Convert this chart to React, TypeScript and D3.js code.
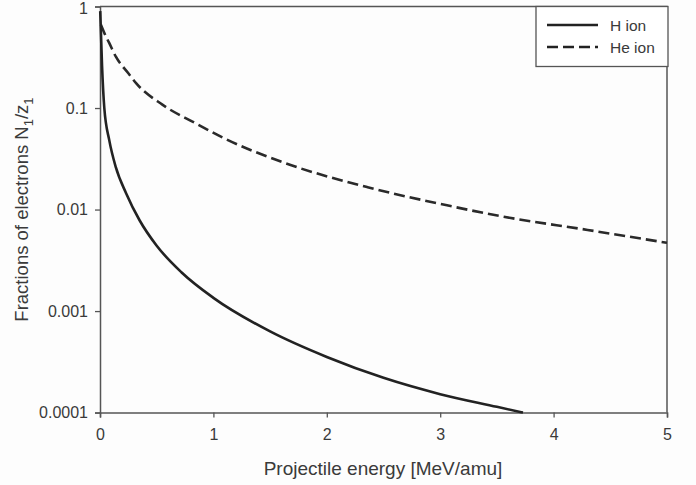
import React, { useRef, useEffect } from 'react';
import * as d3 from 'd3';

// Energy [MeV/amu] and fraction values
const hEnergy = [0.002, 0.018, 0.038, 0.082, 0.14, 0.23, 0.35, 0.5, 0.72, 1.0, 1.5, 2.0, 2.5, 3.0, 3.5, 3.73];
const hFraction = [0.9, 0.26, 0.1, 0.048, 0.026, 0.0145, 0.0078, 0.0044, 0.0024, 0.00135, 0.00063, 0.000353, 0.00022, 0.000152, 0.000114, 0.0001];

const heEnergy = [0.008, 0.044, 0.08, 0.14, 0.25, 0.32, 0.55, 0.84, 1.1, 1.62, 2.36, 3.06, 3.56, 4.3, 5.0];
const heFraction = [0.66, 0.53, 0.44, 0.32, 0.22, 0.175, 0.108, 0.071, 0.05, 0.029, 0.0166, 0.011, 0.0085, 0.0063, 0.0047];

const xTicks = [0, 1, 2, 3, 4, 5];
const yTicks = [1, 0.1, 0.01, 0.001, 0.0001];
const yTickLabels = ['1', '0.1', '0.01', '0.001', '0.0001'];

const seriesNames = ['H ion', 'He ion'];

const App = () => {
  const svgRef = useRef<SVGSVGElement>(null);
  const width = 696;
  const height = 485;
  const margin = { top: 6.5, right: 29, bottom: 72.4, left: 100 };

  useEffect(() => {
    const svg = d3.select(svgRef.current);
    svg.selectAll('*').remove();

    const font = '"Liberation Sans", Arial, sans-serif';
    const axisColor = '#555';
    const textColor = '#3a3a3a';

    const x = d3.scaleLinear()
      .domain([0, 5])
      .range([margin.left, width - margin.right]);

    const y = d3.scaleLog()
      .domain([0.0001, 1])
      .range([height - margin.bottom, margin.top]);

    // frame (top + right)
    svg.append('path')
      .attr('d', `M${x(0)},${y(1)}H${x(5)}V${y(0.0001)}`)
      .attr('fill', 'none')
      .attr('stroke', axisColor)
      .attr('stroke-width', 1.5);

    const xAxis = svg.append('g')
      .attr('transform', `translate(0,${y(0.0001)})`)
      .call(d3.axisBottom(x).tickValues(xTicks).tickFormat(d3.format('d')).tickSizeOuter(0).tickSize(5).tickPadding(11));

    const yAxis = svg.append('g')
      .attr('transform', `translate(${x(0)},0)`)
      .call(d3.axisLeft(y).tickValues(yTicks).tickFormat((d, i) => yTickLabels[i]).tickSizeOuter(0).tickSize(5).tickPadding(7));

    [xAxis, yAxis].forEach(g => {
      g.select('.domain').attr('stroke', axisColor).attr('stroke-width', 1.5);
      g.selectAll('.tick line').attr('stroke', axisColor).attr('stroke-width', 1.3);
      g.selectAll('.tick text')
        .attr('fill', textColor)
        .style('font-family', font)
        .style('font-size', '16px');
    });
    // keep the top "1" label inside the picture
    yAxis.selectAll('.tick text').filter((d) => d === 1).attr('dy', '0.45em');

    const line = d3.line<[number, number]>()
      .x(d => x(d[0]))
      .y(d => y(d[1]))
      .curve(d3.curveMonotoneX);

    const hData: [number, number][] = hEnergy.map((e, i) => [e, hFraction[i]]);
    const heData: [number, number][] = heEnergy.map((e, i) => [e, heFraction[i]]);

    svg.append('path')
      .datum(heData)
      .attr('fill', 'none')
      .attr('stroke', '#2a2a2a')
      .attr('stroke-width', 2.6)
      .attr('stroke-dasharray', '11,5')
      .attr('d', line);

    svg.append('path')
      .datum(hData)
      .attr('fill', 'none')
      .attr('stroke', '#222')
      .attr('stroke-width', 2.6)
      .attr('d', line);

    // axis titles
    svg.append('text')
      .attr('x', 383)
      .attr('y', 475)
      .attr('text-anchor', 'middle')
      .attr('fill', textColor)
      .style('font-family', font)
      .style('font-size', '19px')
      .text('Projectile energy [MeV/amu]');

    const yTitle = svg.append('text')
      .attr('transform', `translate(28,${(y(1) + y(0.0001)) / 2}) rotate(-90)`)
      .attr('text-anchor', 'middle')
      .attr('fill', textColor)
      .style('font-family', font)
      .style('font-size', '18.5px');
    yTitle.append('tspan').text('Fractions of electrons N');
    yTitle.append('tspan').attr('dy', 5).style('font-size', '13px').text('1');
    yTitle.append('tspan').attr('dy', -5).text('/z');
    yTitle.append('tspan').attr('dy', 5).style('font-size', '13px').text('1');

    // legend
    const legend = svg.append('g');
    legend.append('rect')
      .attr('x', 536)
      .attr('y', y(1))
      .attr('width', x(5) + 1 - 536)
      .attr('height', 60)
      .attr('fill', '#fff')
      .attr('stroke', axisColor)
      .attr('stroke-width', 1.3);

    seriesNames.forEach((name, i) => {
      const ly = 25 + i * 22;
      legend.append('line')
        .attr('x1', 547)
        .attr('x2', 598)
        .attr('y1', ly)
        .attr('y2', ly)
        .attr('stroke', '#222')
        .attr('stroke-width', 2.6)
        .attr('stroke-dasharray', i === 1 ? '11,5' : null);
      legend.append('text')
        .attr('x', 610)
        .attr('y', ly + 5.5)
        .attr('fill', textColor)
        .style('font-family', font)
        .style('font-size', '15.5px')
        .text(name);
    });
  }, []);

  return (
    <svg
      ref={svgRef}
      width={width}
      height={height}
      style={{ position: 'absolute', left: 0, top: 0, background: '#fdfdfd' }}
    />
  );
};

export default App;
